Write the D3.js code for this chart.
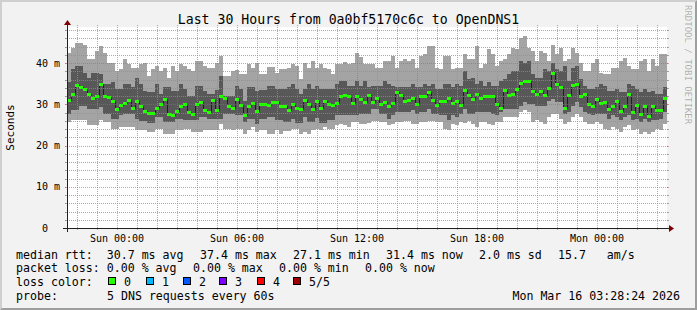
<!DOCTYPE html>
<html>
<head>
<meta charset="utf-8">
<script src="https://cdn.jsdelivr.net/npm/d3@7"></script>
<style>
  body { margin: 0; background: #f2f2f2; }
  svg text { font-family: "DejaVu Sans Mono", monospace; white-space: pre; }
</style>
</head>
<body>
<div id="chart"></div>
<script>
// smokeping style graph, 30 hours of DNS probes

var WIDTH = 697,
    HEIGHT = 310;

// plot box (rrdtool xorigin / yorigin)
var X0 = 67, X1 = 667,
    Y0 = 228, Y1 = 27;

var TITLE = 'Last 30 Hours from 0a0bf5170c6c to OpenDNS1';
var START = new Date(2026, 2, 14, 21, 30),
    END = new Date(2026, 2, 16, 3, 30);
var STEP_MIN = 12;   // one consolidated value every 12 minutes

// sorted pings per step (ms): min, 2nd, median, 4th, max
var pingMin = [
  25.7, 26.1, 26.1, 26.1, 26.1, 24.9, 24.9, 24.9, 26.1, 25.7,
  25.7, 24.1, 24.1, 24.5, 24.5, 24.5, 24.5, 23.7, 23.7, 23.7,
  23.3, 23.3, 24.1, 24.1, 22.9, 22.9, 22.9, 23.7, 23.7, 24.1,
  24.1, 23.3, 23.3, 23.3, 23.7, 23.7, 23.7, 23.7,
  25.3, 24.1, 24.1, 23.7, 24.1, 24.1, 22.9, 23.7, 24.5, 23.3,
  23.7, 23.7, 22.9, 22.9, 23.7, 22.9, 23.5, 23.5, 24.1, 24.1,
  22.9, 23.3, 22.9, 23.7, 24.1, 23.7, 24.5, 24.1, 24.1, 24.9,
  25.3, 24.9, 24.5, 25.7, 25.7, 25.3, 25.3, 25.4,
  25.9, 25.9, 25.7, 25.7, 24.9, 25.3, 25.7, 25.7, 25.9, 25.9,
  25.3, 25.3, 25.7, 25.7, 25.9, 25.9, 25.7, 25.7, 24.1, 23.7,
  25.3, 24.9, 25.7, 25.4, 25.9, 25.3, 24.5, 25.7, 25.7, 25.3,
  24.9, 25.7, 25.7, 26.9, 26.9, 26.9, 26.9,
  28.1, 28.5, 28.1, 25.7, 26.1, 25.7, 25.3, 26.9, 27.7, 27.7,
  26.5, 25.3, 25.7, 26.9, 27.7, 26.9, 25.7, 25.3, 25.3, 25.7,
  25.3, 24.1, 23.7, 24.5, 24.1, 23.3, 24.5, 24.9, 23.7, 24.1,
  22.9, 23.3, 22.9, 23.3, 24.1, 23.7, 25.3
];
var ping2 = [
  27.7, 28.5, 28.5, 29.7, 29.7, 28.9, 28.9, 28.9, 29.3, 27.7,
  27.7, 26.5, 26.5, 27.3, 27.7, 27.7, 27.7, 26.5, 25.9, 25.9,
  25.4, 25.4, 26.9, 26.9, 25.7, 25.7, 25.7, 26.5, 26.5, 26.2,
  26.2, 26.1, 26.1, 26.9, 26.9, 26.5, 26.5, 26.5,
  26.5, 27.7, 27.7, 27.7, 27.3, 27.3, 25.7, 26.5, 26.5, 25.3,
  26.5, 26.5, 26.9, 26.9, 26.2, 26.2, 25.7, 25.7, 26.5, 25.4,
  25.4, 26.9, 25.7, 25.7, 26.7, 25.4, 25.4, 26.1, 26.1, 27.3,
  27.3, 27.3, 27.3, 27.3, 27.3, 27.7, 27.7, 27.7,
  28.9, 28.9, 27.7, 27.7, 26.5, 27.3, 28.1, 28.1, 28.1, 28.1,
  28.5, 27.7, 28.1, 28.1, 28.9, 27.7, 27.7, 27.3, 27.3, 26.1,
  27.3, 26.9, 27.7, 28.9, 27.7, 27.7, 28.1, 28.1, 28.1, 28.1,
  27.7, 27.3, 28.1, 28.9, 28.9, 28.9, 28.9,
  29.7, 30.5, 30.1, 30.1, 29.7, 29.7, 29.7, 30.9, 31.3, 30.5,
  30.5, 27.7, 28.1, 29.7, 30.5, 29.3, 28.1, 27.7, 27.3, 27.7,
  27.7, 27.7, 26.5, 27.3, 26.9, 26.1, 26.9, 27.3, 26.1, 26.5,
  25.7, 26.5, 25.7, 26.1, 26.1, 26.5, 28.1
];
var median = [
  31.0, 32.5, 34.6, 34.1, 33.7, 32.5, 31.4, 31.8, 34.9, 32.0,
  31.7, 30.7, 28.8, 29.7, 30.2, 31.0, 29.0, 30.6, 29.5, 28.3,
  27.7, 27.7, 29.0, 29.9, 31.1, 27.5, 27.2, 28.2, 29.4, 30.0,
  28.0, 27.5, 30.0, 30.4, 28.6, 28.1, 30.9, 28.5,
  32.0, 31.4, 29.4, 29.1, 31.1, 29.7, 27.2, 29.5, 30.2, 28.2,
  29.9, 29.9, 29.8, 30.4, 30.4, 29.4, 29.4, 28.6, 30.0, 28.9,
  28.7, 31.0, 29.9, 28.8, 30.6, 29.1, 30.6, 29.9, 29.7, 30.1,
  32.0, 32.2, 32.0, 30.3, 31.8, 31.2, 30.5, 32.2,
  30.5, 31.3, 30.0, 30.5, 29.5, 30.3, 32.9, 32.1, 30.6, 31.0,
  31.4, 29.9, 31.8, 31.8, 32.9, 31.0, 29.6, 30.6, 30.6, 31.3,
  30.3, 30.6, 29.7, 33.3, 32.2, 31.1, 32.4, 31.4, 32.0, 31.8,
  31.8, 30.0, 29.0, 33.3, 32.1, 32.5, 33.6,
  35.1, 35.5, 35.5, 33.2, 32.5, 33.2, 32.2, 33.8, 37.4, 34.9,
  34.1, 28.9, 32.2, 34.5, 34.9, 31.8, 32.5, 30.0, 29.4, 31.2,
  30.2, 30.5, 28.7, 29.4, 30.6, 28.2, 29.5, 32.3, 27.9, 29.8,
  27.6, 29.4, 27.1, 29.4, 28.6, 28.5, 31.4
];
var ping4 = [
  35.5, 38.5, 39.3, 39.3, 37.7, 36.5, 37.7, 37.7, 37.4, 34.9,
  34.9, 35.3, 33.7, 33.7, 34.9, 34.9, 34.1, 36.5, 34.9, 33.3,
  32.9, 32.9, 34.9, 32.5, 34.1, 34.1, 33.3, 33.3, 34.9, 33.7,
  32.1, 32.1, 34.5, 34.5, 33.3, 32.5, 32.5, 33.4,
  36.9, 32.1, 32.1, 32.1, 34.5, 33.7, 30.9, 34.1, 34.1, 33.3,
  33.4, 33.4, 34.5, 34.5, 33.7, 33.7, 33.7, 34.1, 34.9, 33.7,
  32.5, 33.7, 34.9, 33.7, 34.5, 33.7, 33.7, 33.7, 33.7, 34.9,
  35.7, 35.7, 34.5, 34.5, 35.7, 34.5, 35.7, 34.1,
  34.5, 34.5, 34.5, 35.7, 34.9, 34.5, 34.1, 34.1, 34.1, 34.1,
  34.9, 34.1, 34.1, 34.9, 34.5, 34.9, 33.7, 33.7, 34.9, 34.9,
  34.1, 34.9, 34.5, 38.1, 36.1, 36.5, 34.9, 35.7, 34.5, 35.3,
  34.5, 34.5, 35.7, 36.1, 37.3, 38.1, 38.1,
  40.5, 40.1, 40.5, 37.3, 36.5, 36.5, 38.5, 38.1, 40.1, 38.5,
  38.1, 39.3, 35.7, 38.9, 39.3, 36.1, 34.5, 33.7, 33.7, 34.1,
  34.9, 34.5, 33.3, 33.3, 33.7, 32.9, 32.9, 34.9, 34.5, 33.7,
  32.9, 33.7, 32.9, 33.3, 32.5, 32.5, 34.1
];
var pingMax = [
  42.5, 43.7, 44.9, 44.9, 44.5, 40.9, 40.9, 42.9, 44.2, 42.5,
  40.1, 40.1, 38.1, 38.5, 40.9, 39.7, 38.9, 38.9, 39.7, 40.1,
  36.9, 38.5, 39.3, 38.1, 38.9, 36.5, 39.3, 38.1, 39.8, 39.3,
  38.5, 38.1, 40.5, 40.5, 39.3, 38.9, 38.9, 40.1,
  41.7, 36.9, 36.9, 38.1, 38.2, 37.3, 37.3, 39.7, 38.9, 40.1,
  37.3, 37.3, 39.0, 39.0, 37.7, 38.5, 38.5, 38.9, 39.7, 39.3,
  36.1, 40.1, 38.9, 40.5, 38.9, 39.7, 38.9, 38.5, 37.3, 39.8,
  39.8, 40.3, 39.8, 40.1, 42.5, 41.4, 39.7, 39.8,
  39.8, 38.9, 38.9, 40.5, 40.5, 41.7, 38.9, 40.5, 40.9, 40.5,
  40.9, 38.9, 41.7, 42.1, 44.1, 44.1, 38.9, 38.5, 41.7, 41.7,
  38.5, 38.9, 38.9, 42.1, 40.9, 40.9, 44.1, 38.9, 39.7, 43.3,
  42.1, 39.3, 40.5, 40.9, 42.1, 43.7, 43.3,
  46.1, 46.5, 43.7, 42.9, 40.5, 42.9, 42.5, 40.5, 44.5, 42.1,
  43.7, 40.5, 40.9, 43.7, 42.5, 40.1, 38.1, 38.1, 40.1, 40.9,
  37.7, 37.3, 37.3, 38.9, 38.9, 40.5, 41.3, 39.3, 38.5, 38.5,
  40.5, 40.9, 38.1, 40.9, 39.3, 42.1, 42.1
];

var yMajor = [0, 10, 20, 30, 40];
var yLabels = ['0  ', '10 m', '20 m', '30 m', '40 m'];
var yMinor = [2, 4, 6, 8, 12, 14, 16, 18, 22, 24, 26, 28, 32, 34, 36, 38, 42, 44, 46, 48];

// legend items, each one placed like an rrdtool GPRINT
var rttStats = ['median rtt:  30.7 ms avg', '37.4 ms max', '27.1 ms min', '31.4 ms now', '2.0 ms sd', '15.7   am/s'];
var lossStats = ['packet loss: 0.00 % avg', '0.00 % max', '0.00 % min', '0.00 % now'];
var lossLabels = ['0', '1', '2', '3', '4', '5/5'];
var lossColors = ['#26ff00', '#00b8ff', '#0059ff', '#7e00ff', '#ff0000', '#a10000'];
var probeText = '5 DNS requests every 60s';
var stampText = 'Mon Mar 16 03:28:24 2026';

// legend layout
var CHAR = 7,        // advance of one legend character
    GAP = 16;        // space rrdtool leaves between items
var boxX = [108, 146, 183, 219, 257, 293];
var ROWS = [258.5, 272, 286, 299.5];

var svg = d3.select('#chart').append('svg')
            .attr('width', WIDTH)
            .attr('height', HEIGHT);

// background + 3d border
svg.append('rect').attr('width', WIDTH).attr('height', HEIGHT).attr('fill', '#f2f2f2');
svg.append('polygon')
   .attr('points', `0,${HEIGHT} 2,${HEIGHT - 2} 2,2 ${WIDTH - 2},2 ${WIDTH},0 0,0`)
   .attr('fill', '#cfcfcf');
svg.append('polygon')
   .attr('points', `2,${HEIGHT - 2} ${WIDTH - 2},${HEIGHT - 2} ${WIDTH - 2},2 ${WIDTH},0 ${WIDTH},${HEIGHT} 0,${HEIGHT}`)
   .attr('fill', '#9e9e9e');

svg.append('rect')
   .attr('x', X0).attr('y', Y1)
   .attr('width', X1 - X0).attr('height', Y0 - Y1)
   .attr('fill', '#ffffff');

var x = d3.scaleTime().domain([START, END]).range([X0, X1]);
var y = d3.scaleLinear().domain([0, 48.75]).range([Y0, Y1]);

var rows = median.map((m, i) => ({
  t: d3.timeMinute.offset(START, i * STEP_MIN),
  min: pingMin[i], p2: ping2[i], med: m, p4: ping4[i], max: pingMax[i]
}));
// one more point so the last step reaches the right edge
rows.push(Object.assign({}, rows[rows.length - 1], {t: END}));

var plot = svg.append('g').attr('shape-rendering', 'crispEdges');

// smoke: outer pair of pings light, inner pair darker
plot.append('path')
    .datum(rows)
    .attr('fill', '#a4a4a4')
    .attr('d', d3.area().curve(d3.curveStepAfter)
                 .x(d => x(d.t)).y0(d => y(d.min)).y1(d => y(d.max)));
plot.append('path')
    .datum(rows)
    .attr('fill', '#585858')
    .attr('d', d3.area().curve(d3.curveStepAfter)
                 .x(d => x(d.t)).y0(d => y(d.p2)).y1(d => y(d.p4)));

// median: thin dark step line, then the loss coloured bars
plot.append('path')
    .datum(rows)
    .attr('fill', 'none')
    .attr('stroke', '#202020')
    .attr('stroke-width', 1)
    .attr('d', d3.line().curve(d3.curveStepAfter).x(d => x(d.t)).y(d => y(d.med)));

plot.selectAll('rect.med')
    .data(rows.slice(0, -1))
    .enter()
    .append('rect')
    .attr('class', 'med')
    .attr('x', d => x(d.t))
    .attr('width', (d, i) => x(rows[i + 1].t) - x(d.t))
    .attr('y', d => y(d.med) - 1.5)
    .attr('height', 3)
    .attr('fill', lossColors[0]);

// grid goes over the data, like rrdtool does
var GRID = 'rgba(143,143,143,0.75)',
    MGRID = 'rgba(222,79,79,0.6)';
var grid = svg.append('g').attr('shape-rendering', 'crispEdges');

var hours = x.ticks(d3.timeHour.every(1));
hours.forEach(h => {
  var px = Math.round(x(h)) + 0.5;
  var col = h.getHours() % 3 === 0 ? MGRID : GRID;
  grid.append('line')
      .attr('x1', px).attr('x2', px).attr('y1', Y1 - 2).attr('y2', Y0 + 2)
      .attr('stroke', col).attr('stroke-dasharray', '1,1');
});

function hLine(v, col) {
  var py = Math.round(y(v)) + 0.5;
  grid.append('line')
      .attr('x1', X0 - 2).attr('x2', X1 + 2).attr('y1', py).attr('y2', py)
      .attr('stroke', col).attr('stroke-dasharray', '1,1');
  grid.append('line').attr('x1', X0 - 2).attr('x2', X0).attr('y1', py).attr('y2', py).attr('stroke', col);
  grid.append('line').attr('x1', X1).attr('x2', X1 + 2).attr('y1', py).attr('y2', py).attr('stroke', col);
}
yMinor.forEach(v => hLine(v, GRID));
yMajor.slice(1).forEach(v => hLine(v, MGRID));

// axes and arrows
var AXIS = '#212121', ARROW = '#800000';
grid.append('line')
    .attr('x1', X0 - 4).attr('x2', X1 + 4).attr('y1', Y0 + 0.5).attr('y2', Y0 + 0.5)
    .attr('stroke', AXIS);
grid.append('line')
    .attr('x1', X0 + 0.5).attr('x2', X0 + 0.5).attr('y1', Y0 + 4).attr('y2', Y1 - 4)
    .attr('stroke', AXIS);
svg.append('polygon')
   .attr('points', `${X1 + 2},${Y0 - 3} ${X1 + 2},${Y0 + 4} ${X1 + 7},${Y0 + 0.5}`)
   .attr('fill', ARROW);
svg.append('polygon')
   .attr('points', `${X0 - 3},${Y1 - 2} ${X0 + 4},${Y1 - 2} ${X0 + 0.5},${Y1 - 7}`)
   .attr('fill', ARROW);

// axis labels
svg.selectAll('text.ylab')
   .data(yMajor)
   .enter()
   .append('text')
   .attr('class', 'ylab')
   .attr('x', 60)
   .attr('y', d => y(d) + 3.5)
   .attr('text-anchor', 'end')
   .attr('font-size', 10)
   .text((d, i) => yLabels[i]);

svg.selectAll('text.xlab')
   .data(hours.filter(h => h.getHours() % 6 === 0))
   .enter()
   .append('text')
   .attr('class', 'xlab')
   .attr('x', d => x(d))
   .attr('y', 242)
   .attr('text-anchor', 'middle')
   .attr('font-size', 10)
   .text(d3.timeFormat('%a %H:%M'));

svg.append('text')
   .attr('x', WIDTH / 2)
   .attr('y', 24)
   .attr('text-anchor', 'middle')
   .attr('font-size', 13.2)
   .text(TITLE);

svg.append('text')
   .attr('transform', `translate(14, ${(Y0 + Y1) / 2}) rotate(-90)`)
   .attr('text-anchor', 'middle')
   .attr('font-size', 11)
   .text('Seconds');

svg.append('text')
   .attr('transform', `translate(692, 5) rotate(90)`)
   .attr('y', 7)
   .attr('font-size', 9)
   .attr('fill', 'rgba(0,0,0,0.3)')
   .text('RRDTOOL / TOBI OETIKER');

// legend: items follow each other with a fixed gap
var legend = svg.append('g').attr('font-size', 11.6);

function legendRow(items, row) {
  var lx = 16;
  items.forEach(s => {
    legend.append('text').attr('x', lx).attr('y', ROWS[row]).text(s);
    lx += s.length * CHAR + GAP;
  });
}
legendRow(rttStats, 0);
legendRow(lossStats, 1);

legend.append('text').attr('x', 16).attr('y', ROWS[2]).text('loss color:');
lossLabels.forEach((s, i) => {
  legend.append('rect')
        .attr('x', boxX[i] + 0.5).attr('y', ROWS[2] - 8.5)
        .attr('width', 7).attr('height', 7)
        .attr('fill', lossColors[i])
        .attr('stroke', '#000')
        .attr('shape-rendering', 'crispEdges');
  legend.append('text').attr('x', boxX[i] + 16).attr('y', ROWS[2]).text(s);
});

legend.append('text').attr('x', 16).attr('y', ROWS[3]).text('probe:');
legend.append('text').attr('x', 107).attr('y', ROWS[3]).text(probeText);
legend.append('text').attr('x', 680).attr('y', ROWS[3]).attr('text-anchor', 'end').text(stampText);
</script>
</body>
</html>
